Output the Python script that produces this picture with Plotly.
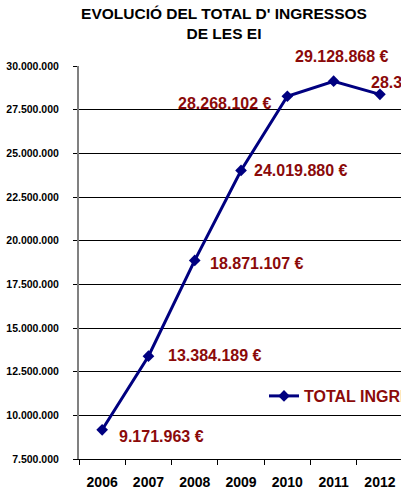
import plotly.graph_objects as go

years = ["2006", "2007", "2008", "2009", "2010", "2011", "2012"]
ingressos = [9171963, 13384189, 18871107, 24019880, 28268102, 29128868, 28376000]
labels = ["9.171.963 €", "13.384.189 €", "18.871.107 €", "24.019.880 €",
          "28.268.102 €", "29.128.868 €", "28.376.000 €"]
y_ticks = [7500000, 10000000, 12500000, 15000000, 17500000, 20000000,
           22500000, 25000000, 27500000, 30000000]
series_name = "TOTAL INGRESSOS"
title_text = "EVOLUCIÓ DEL TOTAL D' INGRESSOS<br>DE LES EI"

FONT = "Liberation Sans, Arial, sans-serif"
RED = "#8B0A0A"
NAVY = "#000080"

# label placement styles (anchor, pixel offsets)
lab_xanchor = ["left", "left", "left", "left", "right", "center", "left"]
lab_xshift = [15, 18, 13, 11, -13, 8, -11]
lab_yshift = [-7, 1, -3, 0, -7, 25, 12]

fig = go.Figure()
fig.add_trace(go.Scatter(
    x=years, y=ingressos, name=series_name, mode="lines+markers",
    line=dict(color=NAVY, width=3),
    marker=dict(symbol="diamond", size=9, color=NAVY),
    cliponaxis=False,
))

for i in range(len(years)):
    fig.add_annotation(
        x=i, y=ingressos[i], xref="x", yref="y", text=labels[i], showarrow=False,
        xanchor=lab_xanchor[i], yanchor="middle",
        xshift=lab_xshift[i], yshift=lab_yshift[i],
        font=dict(family=FONT, size=16, color=RED, weight="bold"),
    )

fig.update_layout(
    width=401, height=492,
    margin=dict(l=79, r=0, t=66, b=33, autoexpand=False),
    paper_bgcolor="white", plot_bgcolor="white",
    separators=",.",
    title=dict(text=title_text, x=224/401, xref="container", xanchor="center",
               y=1-19/492, yref="container", yanchor="top",
               font=dict(family=FONT, size=15.5, color="black", weight="bold")),
    showlegend=True,
    legend=dict(x=(264-79)/322, xanchor="left", y=(459-379)/393, yanchor="top",
                bgcolor="white", borderwidth=0,
                font=dict(family=FONT, size=16, color=RED, weight="bold")),
    xaxis=dict(type="category", range=[-0.5, 6.455], showgrid=False,
               showline=True, linecolor="black", linewidth=1,
               ticks="outside", tickson="boundaries", ticklen=5, tickcolor="black",
               tickfont=dict(family=FONT, size=14, color="black", weight="bold"),
               ticklabelstandoff=10),
    yaxis=dict(range=[7500000, 30000000], tickvals=y_ticks, tickformat=",d",
               showgrid=True, gridcolor="black", gridwidth=1, zeroline=False,
               showline=True, linecolor="#808080", linewidth=2,
               ticks="outside", ticklen=4, tickcolor="black",
               tickfont=dict(family=FONT, size=10.5, color="black", weight="bold"),
               ticklabelstandoff=12),
)

fig.write_html("out.html", config={"displayModeBar": False},
               post_script="document.body.style.margin='0';document.body.style.overflow='hidden';")
